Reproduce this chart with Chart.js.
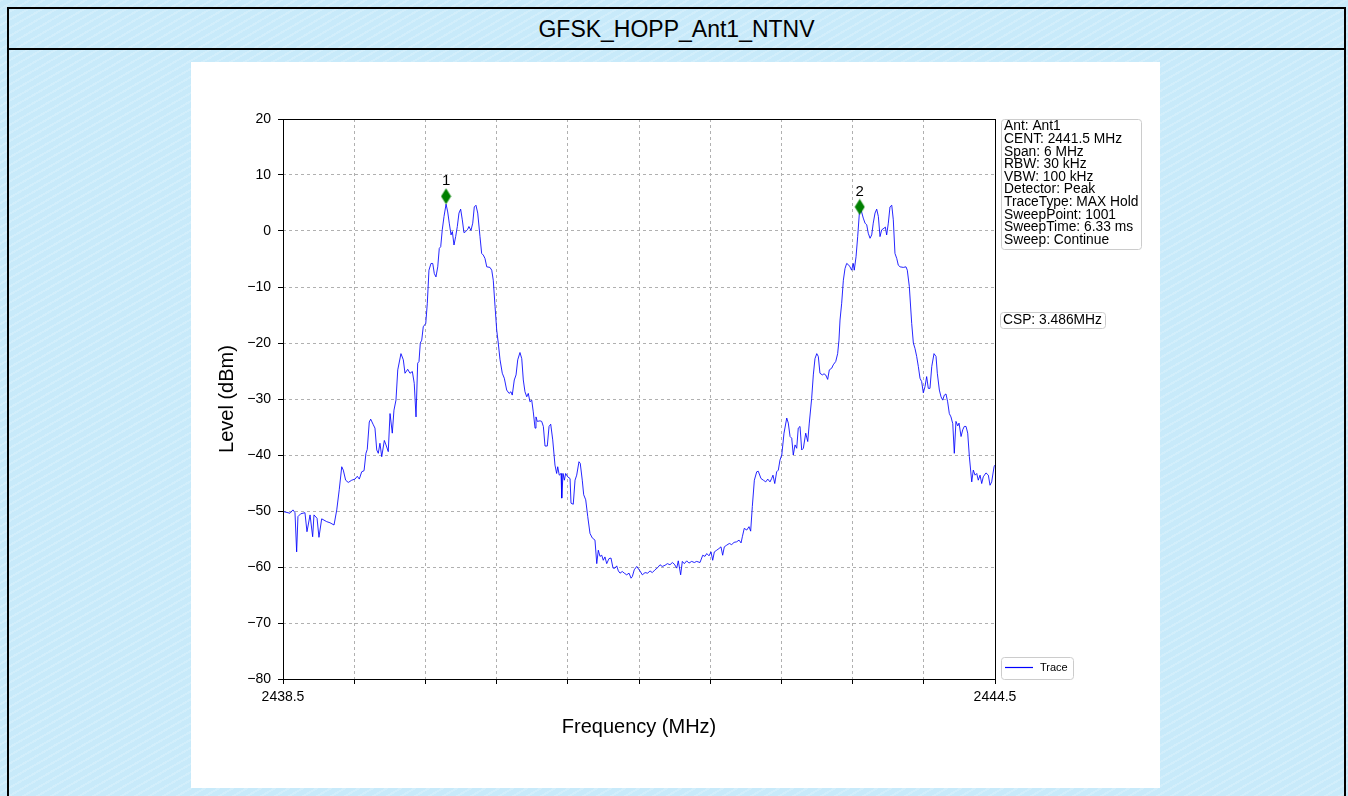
<!DOCTYPE html>
<html>
<head>
<meta charset="utf-8">
<script src="https://cdn.jsdelivr.net/npm/chart.js@4.4.1/dist/chart.umd.min.js"></script>
<style>
html,body{margin:0;padding:0;width:1348px;height:796px;overflow:hidden;}
body{background-color:#c8eafa;
 background-image:repeating-linear-gradient(150deg, rgba(255,255,255,0.18) 0px, rgba(255,255,255,0.18) 2px, rgba(0,0,0,0) 2px, rgba(0,0,0,0) 7px);
 font-family:"Liberation Sans", Arial, sans-serif;}
#frame{position:absolute;left:7px;top:7px;width:1335px;height:800px;border:2px solid #000;}
#title{position:absolute;left:0;top:0;width:1335px;height:39px;border-bottom:2px solid #000;
 text-align:center;line-height:41px;font-size:23px;color:#000;}
#wrap{position:absolute;left:191px;top:62px;width:969px;height:726px;background:#fff;}
</style>
</head>
<body>
<div id="frame"><div id="title">GFSK_HOPP_Ant1_NTNV</div></div>
<div id="wrap"><canvas id="c" width="969" height="726"></canvas></div>
<script>
// ---- data ----
const freqMHz = [
2438.503,2438.559,2438.584,2438.601,2438.615,2438.626,2438.649,2438.685,2438.702,2438.728,
2438.750,2438.761,2438.787,2438.803,2438.826,2438.868,2438.896,2438.930,2438.953,2438.974,
2438.995,2439.008,2439.028,2439.050,2439.079,2439.107,2439.126,2439.143,2439.163,2439.183,
2439.199,2439.210,2439.227,2439.239,2439.261,2439.275,2439.290,2439.303,2439.317,2439.332,
2439.354,2439.368,2439.387,2439.402,2439.421,2439.435,2439.452,2439.467,2439.494,2439.514,
2439.528,2439.551,2439.570,2439.590,2439.606,2439.621,2439.635,2439.646,2439.657,2439.669,
2439.682,2439.703,2439.716,2439.730,2439.747,2439.762,2439.775,2439.789,2439.804,2439.817,
2439.829,2439.842,2439.857,2439.874,2439.888,2439.901,2439.916,2439.927,2439.941,2439.955,
2439.969,2439.983,2439.997,2440.011,2440.025,2440.040,2440.056,2440.067,2440.084,2440.099,
2440.112,2440.126,2440.141,2440.160,2440.174,2440.188,2440.202,2440.217,2440.244,2440.259,
2440.272,2440.287,2440.301,2440.314,2440.329,2440.348,2440.365,2440.385,2440.405,2440.421,
2440.432,2440.449,2440.464,2440.478,2440.497,2440.512,2440.525,2440.539,2440.554,2440.567,
2440.581,2440.596,2440.609,2440.624,2440.632,2440.643,2440.666,2440.680,2440.694,2440.708,
2440.727,2440.742,2440.756,2440.773,2440.792,2440.806,2440.815,2440.828,2440.843,2440.849,
2440.860,2440.871,2440.882,2440.899,2440.919,2440.927,2440.946,2440.961,2440.975,2440.994,
2441.005,2441.022,2441.034,2441.051,2441.068,2441.087,2441.106,2441.129,2441.144,2441.157,
2441.171,2441.186,2441.199,2441.213,2441.228,2441.247,2441.264,2441.281,2441.298,2441.312,
2441.326,2441.340,2441.359,2441.376,2441.396,2441.416,2441.433,2441.444,2441.460,2441.481,
2441.508,2441.528,2441.551,2441.573,2441.593,2441.612,2441.635,2441.658,2441.677,2441.696,
2441.719,2441.739,2441.761,2441.781,2441.798,2441.818,2441.831,2441.851,2441.865,2441.882,
2441.902,2441.921,2441.944,2441.966,2441.986,2442.014,2442.037,2442.056,2442.071,2442.090,
2442.107,2442.121,2442.135,2442.155,2442.174,2442.191,2442.205,2442.219,2442.239,2442.261,
2442.281,2442.301,2442.323,2442.343,2442.360,2442.371,2442.387,2442.408,2442.427,2442.441,
2442.455,2442.472,2442.492,2442.505,2442.528,2442.548,2442.568,2442.585,2442.604,2442.618,
2442.629,2442.644,2442.660,2442.674,2442.688,2442.703,2442.722,2442.745,2442.758,2442.773,
2442.787,2442.800,2442.815,2442.829,2442.842,2442.857,2442.871,2442.885,2442.905,2442.922,
2442.935,2442.955,2442.969,2442.983,2442.998,2443.011,2443.025,2443.045,2443.059,2443.073,
2443.090,2443.104,2443.124,2443.137,2443.158,2443.174,2443.185,2443.194,2443.208,2443.222,
2443.236,2443.250,2443.264,2443.278,2443.292,2443.306,2443.314,2443.329,2443.343,2443.357,
2443.371,2443.390,2443.405,2443.419,2443.432,2443.447,2443.461,2443.474,2443.489,2443.503,
2443.517,2443.531,2443.545,2443.565,2443.576,2443.587,2443.601,2443.615,2443.630,2443.643,
2443.657,2443.672,2443.685,2443.700,2443.727,2443.750,2443.761,2443.778,2443.798,2443.812,
2443.826,2443.840,2443.854,2443.868,2443.882,2443.896,2443.910,2443.924,2443.938,2443.952,
2443.967,2443.986,2444.003,2444.014,2444.031,2444.045,2444.059,2444.073,2444.087,2444.101,
2444.115,2444.129,2444.144,2444.157,2444.171,2444.186,2444.197,2444.214,2444.228,2444.241,
2444.256,2444.270,2444.284,2444.304,2444.317,2444.332,2444.346,2444.359,2444.374,2444.388,
2444.401,2444.424,2444.444,2444.458,2444.472,2444.492,2444.500
];
const levelDbm = [
-50.1,-50.4,-49.8,-50.3,-57.3,-51.0,-50.5,-50.3,-53.7,-50.7,
-54.6,-50.7,-51.3,-54.7,-51.4,-51.9,-52.1,-52.5,-49.8,-46.2,
-42.1,-42.7,-44.5,-44.9,-44.5,-44.3,-43.8,-44.3,-43.0,-42.8,
-39.7,-39.0,-34.1,-33.6,-34.6,-35.2,-39.1,-39.7,-37.9,-40.3,
-37.4,-38.2,-39.4,-32.6,-36.1,-32.0,-30.2,-24.8,-21.9,-23.0,
-25.4,-24.7,-25.4,-25.1,-27.2,-33.2,-23.6,-23.3,-20.0,-19.5,
-17.1,-16.5,-12.9,-7.0,-5.8,-5.8,-7.6,-8.2,-6.4,-3.1,
-2.8,0.2,2.6,4.8,3.4,1.4,-0.7,-0.1,-2.5,-1.0,
0.8,3.2,3.9,2.0,-0.3,-0.1,0.3,0.8,0.1,1.4,
4.3,4.6,3.2,-1.0,-4.0,-4.3,-4.9,-6.4,-6.5,-7.0,
-8.8,-13.5,-17.7,-20.0,-23.0,-25.4,-26.3,-28.4,-29.0,-28.7,
-29.3,-26.6,-25.7,-23.0,-21.7,-22.8,-26.6,-28.7,-29.6,-29.0,
-30.5,-30.2,-32.3,-35.2,-33.2,-34.0,-33.9,-34.0,-34.9,-38.4,
-38.4,-34.9,-34.5,-37.3,-41.8,-43.3,-42.1,-43.6,-43.3,-47.7,
-43.3,-44.5,-43.3,-43.9,-44.2,-48.6,-48.8,-44.5,-43.6,-41.2,
-41.5,-44.5,-47.1,-48.0,-51.0,-54.0,-54.8,-55.2,-59.4,-57.0,
-58.1,-57.9,-58.8,-58.2,-59.4,-58.5,-58.4,-60.2,-60.2,-59.8,
-60.7,-61.1,-60.8,-61.1,-61.4,-61.1,-62.0,-61.7,-60.5,-59.9,
-60.7,-61.4,-61.0,-61.1,-60.7,-61.0,-60.5,-60.1,-59.6,-59.9,
-59.7,-59.4,-59.6,-59.2,-59.5,-60.2,-58.9,-61.4,-59.0,-59.4,
-58.9,-59.3,-59.0,-59.2,-59.0,-59.2,-57.9,-58.1,-57.6,-58.0,
-57.3,-58.8,-57.3,-57.0,-56.7,-56.4,-57.9,-56.4,-56.1,-55.8,
-56.0,-55.6,-55.5,-55.2,-55.7,-54.6,-53.1,-53.4,-52.8,-53.6,
-49.2,-44.5,-43.0,-42.9,-44.2,-44.5,-44.8,-44.3,-44.8,-44.2,
-43.6,-45.1,-43.0,-42.7,-40.9,-40.0,-36.1,-33.4,-34.3,-36.7,
-37.0,-40.0,-38.2,-38.8,-35.2,-34.9,-39.1,-38.8,-36.1,-37.6,
-34.3,-29.9,-25.7,-22.8,-21.9,-22.4,-25.4,-25.7,-25.5,-25.7,
-26.5,-24.8,-24.5,-23.9,-23.3,-21.9,-19.5,-15.9,-12.9,-8.8,
-6.7,-5.8,-6.0,-6.4,-7.0,-5.8,-7.0,-4.6,-1.0,3.2,
3.8,2.3,1.4,1.1,-0.4,-1.3,-0.7,1.4,3.2,3.9,
2.6,-1.0,0.2,0.5,0.7,-0.7,1.4,4.3,4.6,2.0,
-4.0,-4.9,-6.1,-6.4,-6.5,-6.4,-7.0,-9.9,-16.5,-20.0,
-21.0,-22.4,-24.2,-26.3,-26.9,-28.9,-27.8,-26.0,-28.1,-28.1,
-24.2,-21.9,-22.4,-25.4,-28.4,-29.6,-30.2,-29.3,-29.1,-30.5,
-32.6,-33.2,-34.4,-39.7,-34.0,-34.8,-34.3,-36.7,-35.5,-34.9,
-34.9,-36.1,-40.3,-44.8,-42.7,-43.6,-43.3,-44.5,-43.6,-45.1,
-43.9,-43.2,-43.6,-45.4,-44.8,-42.1,-41.8
];
const markerFreq = [2439.874, 2443.360];
const markerLevel = [6.2, 4.3];
const markerNames = ['1', '2'];
const xTickValues = [2438.5, 2439.1, 2439.7, 2440.3, 2440.9, 2441.5, 2442.1, 2442.7, 2443.3, 2443.9, 2444.5];
const xTickLabels = ['2438.5', '', '', '', '', '', '', '', '', '', '2444.5'];
const yTickValues = [-80, -70, -60, -50, -40, -30, -20, -10, 0, 10, 20];
const infoLines = ['Ant: Ant1', 'CENT: 2441.5 MHz', 'Span: 6 MHz', 'RBW: 30 kHz', 'VBW: 100 kHz',
  'Detector: Peak', 'TraceType: MAX Hold', 'SweepPoint: 1001', 'SweepTime: 6.33 ms', 'Sweep: Continue'];
const cspText = 'CSP: 3.486MHz';
const legendLabel = 'Trace';
const xTitle = 'Frequency (MHz)';
const yTitle = 'Level (dBm)';

const FONT = '"Liberation Sans", Arial, sans-serif';

// thin diamond marker image
const dm = document.createElement('canvas');
dm.width = 11; dm.height = 17;
(function(){const g = dm.getContext('2d'); g.fillStyle = '#008000';
 g.beginPath(); g.moveTo(5.5,0.5); g.lineTo(10.5,8.5); g.lineTo(5.5,16.5); g.lineTo(0.5,8.5); g.closePath(); g.fill();})();

const traceData = freqMHz.map((f, i) => ({x: f, y: levelDbm[i]}));
const markerData = markerFreq.map((f, i) => ({x: f, y: markerLevel[i]}));

const deco = {
  id: 'deco',
  afterDraw(chart) {
    const ctx = chart.ctx, a = chart.chartArea;
    const xs = chart.scales.x, ys = chart.scales.y;
    ctx.save();
    // frame
    ctx.strokeStyle = '#000'; ctx.lineWidth = 1;
    ctx.strokeRect(Math.round(a.left) + 0.5, Math.round(a.top) + 0.5, Math.round(a.right - a.left), Math.round(a.bottom - a.top));
    // marker labels
    ctx.fillStyle = '#000'; ctx.font = '15px ' + FONT; ctx.textAlign = 'center'; ctx.textBaseline = 'bottom';
    markerData.forEach((p, i) => {
      ctx.fillText(markerNames[i], xs.getPixelForValue(p.x), ys.getPixelForValue(p.y) - 8);
    });
    // axis titles
    ctx.font = '20px ' + FONT; ctx.textBaseline = 'middle'; ctx.textAlign = 'center';
    ctx.fillText(xTitle, (a.left + a.right) / 2, a.bottom + 48);
    ctx.save(); ctx.translate(a.left - 56, (a.top + a.bottom) / 2); ctx.rotate(-Math.PI / 2);
    ctx.fillText(yTitle, 0, 0); ctx.restore();
    // info box
    const bx = a.right + 6, by = a.top;
    ctx.font = '13.8px ' + FONT;
    let w = 0; infoLines.forEach(s => w = Math.max(w, ctx.measureText(s).width));
    const lh = 12.6;
    roundBox(ctx, bx, by, w + 6, infoLines.length * lh + 4);
    ctx.fillStyle = '#000'; ctx.textAlign = 'left'; ctx.textBaseline = 'middle';
    infoLines.forEach((s, i) => ctx.fillText(s, bx + 3, by + 7.5 + i * lh));
    // CSP box
    const cw = ctx.measureText(cspText).width;
    roundBox(ctx, a.right + 5, a.top + 193, cw + 6, 16);
    ctx.fillStyle = '#000'; ctx.fillText(cspText, a.right + 8, a.top + 201.5);
    // legend
    const lx = a.right + 6, ly = a.bottom - 22;
    roundBox(ctx, lx, ly, 72, 22);
    ctx.strokeStyle = '#0000ff'; ctx.lineWidth = 1.2;
    ctx.beginPath(); ctx.moveTo(lx + 4, ly + 10.5); ctx.lineTo(lx + 32, ly + 10.5); ctx.stroke();
    ctx.fillStyle = '#000'; ctx.font = '11px ' + FONT; ctx.textBaseline = 'middle';
    ctx.fillText(legendLabel, lx + 39, ly + 11);
    ctx.restore();
  }
};
function roundBox(ctx, x, y, w, h) {
  ctx.save();
  ctx.fillStyle = 'rgba(255,255,255,0.8)'; ctx.strokeStyle = '#cccccc'; ctx.lineWidth = 1;
  ctx.beginPath();
  if (ctx.roundRect) ctx.roundRect(Math.round(x) + 0.5, Math.round(y) + 0.5, Math.round(w), Math.round(h), 3);
  else ctx.rect(Math.round(x) + 0.5, Math.round(y) + 0.5, Math.round(w), Math.round(h));
  ctx.fill(); ctx.stroke(); ctx.restore();
}

new Chart(document.getElementById('c'), {
  type: 'line',
  data: {
    datasets: [
      {label: legendLabel, data: traceData, borderColor: 'rgba(0,0,255,0.85)', borderWidth: 1,
       pointRadius: 0, tension: 0, fill: false, order: 2},
      {label: 'markers', data: markerData, showLine: false, pointStyle: dm, pointRadius: 6,
       backgroundColor: '#008000', borderColor: '#008000', order: 1}
    ]
  },
  options: {
    responsive: false, animation: false, devicePixelRatio: 1,
    layout: {padding: {left: 0, top: 57, right: 165, bottom: 0}},
    plugins: {legend: {display: false}, title: {display: false}, tooltip: {enabled: false}},
    scales: {
      x: {
        type: 'linear', min: 2438.5, max: 2444.5,
        afterBuildTicks: s => { s.ticks = xTickValues.map(v => ({value: v})); },
        afterFit: s => { s.height = 109; },
        grid: {color: '#b0b0b0', lineWidth: 1, tickLength: 5, tickColor: '#000', tickWidth: 1, tickBorderDash: []},
        border: {display: false, dash: [3, 3]},
        ticks: {autoSkip: false, maxRotation: 0, padding: 5, color: '#000', font: {family: FONT, size: 14},
          callback: (v, i) => xTickLabels[i]}
      },
      y: {
        type: 'linear', min: -80, max: 20,
        afterBuildTicks: s => { s.ticks = yTickValues.map(v => ({value: v})); },
        afterFit: s => { s.width = 92; },
        grid: {color: '#b0b0b0', lineWidth: 1, tickLength: 5, tickColor: '#000', tickWidth: 1, tickBorderDash: []},
        border: {display: false, dash: [3, 3]},
        ticks: {padding: 7, color: '#000', font: {family: FONT, size: 14},
          callback: v => String(v).replace('-', '\u2212')}
      }
    }
  },
  plugins: [deco]
});
</script>
</body>
</html>
